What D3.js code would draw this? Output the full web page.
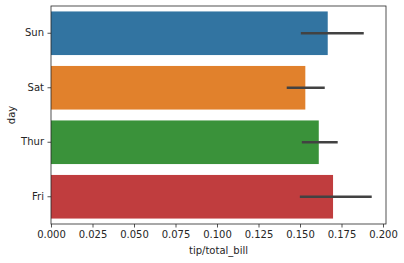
<!DOCTYPE html>
<html>
<head>
<meta charset="utf-8">
<script src="https://cdn.jsdelivr.net/npm/d3@7"></script>
<style>
  body { margin: 0; background: #fff; }
  svg text { font-family: "DejaVu Sans", sans-serif; fill: #262626; }
</style>
</head>
<body>
<div id="chart"></div>
<script>
// datos
var days = ["Sun", "Sat", "Thur", "Fri"];
var tipPct = [0.1667, 0.1532, 0.1613, 0.1699];
var ciLow = [0.1505, 0.1420, 0.1511, 0.1499];
var ciHigh = [0.1884, 0.1649, 0.1727, 0.1932];
var xTicks = [0, 0.025, 0.05, 0.075, 0.1, 0.125, 0.15, 0.175, 0.2];
var colores = ["#3274a1", "#e1812c", "#3a923a", "#c03d3e"];

var width = 404;
var height = 263;
var plotLeft = 51, plotRight = 386, plotTop = 6, plotBottom = 224;

var svg = d3.select("#chart").append("svg")
  .attr("width", width)
  .attr("height", height);

/* Scales */
var xScale = d3.scaleLinear()
  .domain([0, 0.2018])
  .range([plotLeft, plotRight]);

var yScale = d3.scaleBand()
  .domain(days)
  .range([plotTop, plotBottom])
  .paddingInner(0.2)
  .paddingOuter(0.1);

/* Bars */
svg.append("g").selectAll("rect")
  .data(days).enter()
  .append("rect")
  .attr("x", xScale(0))
  .attr("y", d => yScale(d))
  .attr("width", (d, i) => xScale(tipPct[i]) - xScale(0))
  .attr("height", yScale.bandwidth())
  .attr("fill", (d, i) => colores[i]);

/* Error bars */
svg.append("g").selectAll("line")
  .data(days).enter()
  .append("line")
  .attr("x1", (d, i) => xScale(ciLow[i]))
  .attr("x2", (d, i) => xScale(ciHigh[i]))
  .attr("y1", d => yScale(d) + yScale.bandwidth() / 2)
  .attr("y2", d => yScale(d) + yScale.bandwidth() / 2)
  .attr("stroke", "#424242")
  .attr("stroke-width", 2.7);

/* Axes */
var xAxis = d3.axisBottom(xScale)
  .tickValues(xTicks)
  .tickFormat(d3.format(".3f"))
  .tickSizeOuter(0)
  .tickSize(3.5)
  .tickPadding(3.5);

var yAxis = d3.axisLeft(yScale)
  .tickSizeOuter(0)
  .tickSize(3.5)
  .tickPadding(3.5);

var gx = svg.append("g")
  .attr("transform", `translate(0, ${plotBottom})`)
  .call(xAxis);
var gy = svg.append("g")
  .attr("transform", `translate(${plotLeft}, 0)`)
  .call(yAxis);

[gx, gy].forEach(function (g) {
  g.select(".domain").remove();
  g.selectAll(".tick line").attr("stroke", "#262626").attr("stroke-width", 0.8);
  g.selectAll(".tick text").style("font-size", "10px").attr("fill", "#262626");
});

/* Frame */
svg.append("rect")
  .attr("x", plotLeft)
  .attr("y", plotTop)
  .attr("width", plotRight - plotLeft)
  .attr("height", plotBottom - plotTop)
  .attr("fill", "none")
  .attr("stroke", "#262626")
  .attr("stroke-width", 0.8);

/* Labels */
svg.append("text")
  .attr("x", (plotLeft + plotRight) / 2)
  .attr("y", 254)
  .attr("text-anchor", "middle")
  .style("font-size", "10px")
  .text("tip/total_bill");

svg.append("text")
  .attr("transform", `translate(15, ${(plotTop + plotBottom) / 2}) rotate(-90)`)
  .attr("text-anchor", "middle")
  .style("font-size", "10px")
  .text("day");
</script>
</body>
</html>
